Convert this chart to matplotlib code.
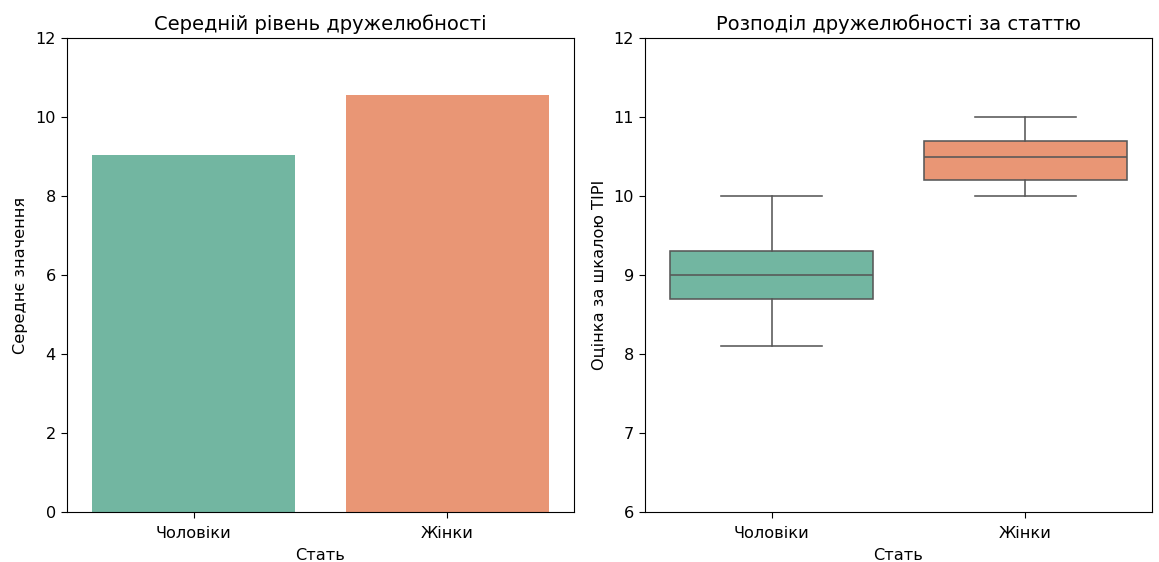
import numpy as np
import matplotlib.pyplot as plt

# ----------------------
# data
# ----------------------
genders = ['Чоловіки', 'Жінки']
meanVals = [9.05, 10.55]

# box stats
whiskLow = [8.1, 10.0]
q1Vals = [8.7, 10.2]
medVals = [9.0, 10.5]
q3Vals = [9.3, 10.7]
whiskHigh = [10.0, 11.0]

colors = ['#72b6a1', '#e99675']

plt.rcParams['font.size'] = 11.6
plt.rcParams['xtick.major.size'] = 4.5
plt.rcParams['ytick.major.size'] = 4.5
plt.rcParams['xtick.major.pad'] = 5.5
plt.rcParams['axes.labelpad'] = 5.0

fig, (barPlot, boxPlot) = plt.subplots(1, 2, figsize=(11.59, 5.62), dpi=100)

xPos = np.arange(len(genders))
barPlot.bar(xPos, meanVals, width=0.8, color=colors)
barPlot.set_xticks(xPos, genders)
barPlot.set_xlim(-0.5, 1.5)
barPlot.set_ylim(0, 12)
barPlot.set(title='Середній рівень дружелюбності', xlabel='Стать', ylabel='Середнє значення')

stats = []
for i in range(len(genders)):
    stats.append({'whislo': whiskLow[i], 'q1': q1Vals[i], 'med': medVals[i],
                  'q3': q3Vals[i], 'whishi': whiskHigh[i], 'fliers': []})

lineColor = '#575757'
lw = 1.15
boxes = boxPlot.bxp(stats, positions=xPos, widths=0.8, patch_artist=True, showfliers=False,
                    boxprops=dict(edgecolor=lineColor, linewidth=lw),
                    medianprops=dict(color=lineColor, linewidth=lw),
                    whiskerprops=dict(color=lineColor, linewidth=lw),
                    capprops=dict(color=lineColor, linewidth=lw))
for patch, c in zip(boxes['boxes'], colors):
    patch.set_facecolor(c)
boxPlot.set_xticks(xPos, genders)
boxPlot.set_xlim(-0.5, 1.5)
boxPlot.set_ylim(6, 12)
boxPlot.set(title='Розподіл дружелюбності за статтю', xlabel='Стать', ylabel='Оцінка за шкалою TIPI')

for ax in (barPlot, boxPlot):
    ax.title.set_fontsize(14)

plt.subplots_adjust(left=0.0578, right=0.994, bottom=0.089, top=0.932, wspace=0.14)
plt.savefig('out.png')
